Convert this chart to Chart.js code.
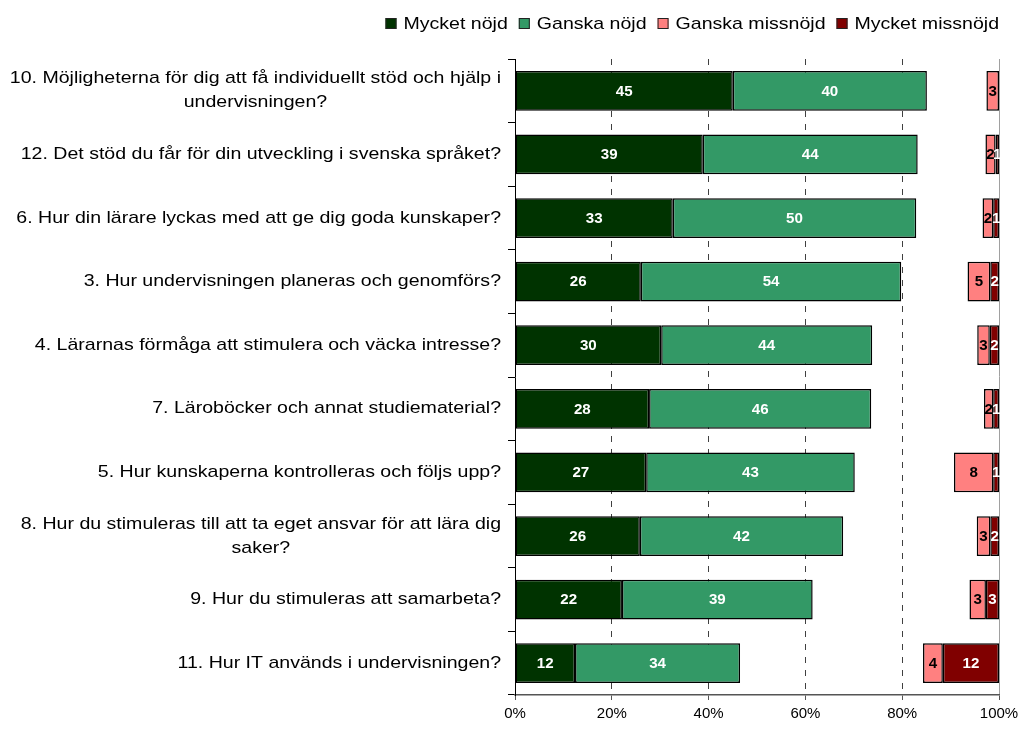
<!DOCTYPE html>
<html>
<head>
<meta charset="utf-8">
<script src="https://cdn.jsdelivr.net/npm/chart.js@4/dist/chart.umd.min.js"></script>
<style>
  html, body { margin: 0; padding: 0; background: #fff; }
  #wrap { width: 1020px; height: 729px; }
</style>
</head>
<body>
<div id="wrap"><canvas id="chart"></canvas></div>
<script>
const questions = [
  ["10. Möjligheterna för dig att få individuellt stöd och hjälp i", "undervisningen?"],
  "12. Det stöd du får för din utveckling i svenska språket?",
  "6. Hur din lärare lyckas med att ge dig goda kunskaper?",
  "3. Hur undervisningen planeras och genomförs?",
  "4. Lärarnas förmåga att stimulera och väcka intresse?",
  "7. Läroböcker och annat studiematerial?",
  "5. Hur kunskaperna kontrolleras och följs upp?",
  ["8. Hur du stimuleras till att ta eget ansvar för att lära dig", "saker?"],
  "9. Hur du stimuleras att samarbeta?",
  "11. Hur IT används i undervisningen?",
];

const mycketNojd = [45.0, 38.8, 32.6, 26.0, 30.2, 27.7, 27.1, 25.8, 22.1, 12.4];
const ganskaNojd = [40.1, 44.4, 50.3, 53.8, 43.6, 45.9, 43.1, 42.0, 39.4, 34.1];
const ganskaMissnojd = [2.6, 2.1, 2.2, 4.7, 2.6, 1.9, 8.1, 2.8, 3.4, 4.1];
const mycketMissnojd = [0, 0.7, 1.2, 1.8, 1.9, 1.2, 1.2, 1.8, 2.7, 11.6];

// tomrum mellan nöjda och missnöjda
const gap = questions.map((q, i) =>
  100 - mycketNojd[i] - ganskaNojd[i] - ganskaMissnojd[i] - mycketMissnojd[i]
);

const c1 = "#003300";
const c2 = "#339966";
const c3 = "#FF8080";
const c4 = "#800000";
const font = "'Liberation Sans', Arial, sans-serif";
const stretch = 1.15; // texten i originalet är lite bredare

function wideText(ctx, txt, x, y, sx) {
  ctx.save();
  ctx.translate(x, y);
  ctx.scale(sx, 1);
  ctx.fillText(txt, 0, 0);
  ctx.restore();
}

const barLabels = {
  id: "barLabels",
  afterDatasetsDraw(chart) {
    const ctx = chart.ctx;
    ctx.save();
    ctx.font = "bold 14px " + font;
    ctx.textAlign = "center";
    ctx.textBaseline = "middle";
    chart.data.datasets.forEach((ds, di) => {
      if (ds.isGap) return;
      const meta = chart.getDatasetMeta(di);
      meta.data.forEach((bar, i) => {
        const v = Math.round(ds.data[i]);
        if (!v) return;
        ctx.fillStyle = ds.labelColor;
        wideText(ctx, String(v), (bar.x + bar.base) / 2, bar.y + 1, 1.08);
      });
    });
    ctx.restore();
  },
};

// kategoritexter, centrerade rader i högerjusterat block
const catLabels = {
  id: "catLabels",
  afterDraw(chart) {
    const ctx = chart.ctx;
    const y = chart.scales.y;
    ctx.save();
    ctx.font = "17px " + font;
    ctx.fillStyle = "#000";
    ctx.textBaseline = "middle";
    ctx.textAlign = "center";
    const right = 501;
    questions.forEach((q, i) => {
      const lines = Array.isArray(q) ? q : [q];
      const w = Math.max(...lines.map((l) => ctx.measureText(l).width)) * stretch;
      const cy = y.getPixelForTick(i);
      const lh = 24;
      lines.forEach((l, k) => {
        wideText(ctx, l, right - w / 2, cy + (k - (lines.length - 1) / 2) * lh, stretch);
      });
    });
    ctx.restore();
  },
};

// egen förklaring uppe till höger
const topLegend = {
  id: "topLegend",
  afterDraw(chart) {
    const ctx = chart.ctx;
    ctx.save();
    ctx.font = "17px " + font;
    ctx.textBaseline = "middle";
    ctx.textAlign = "left";
    const items = chart.data.datasets.filter((d) => !d.isGap);
    const box = 11;
    const widths = items.map((d) => box + 7 + ctx.measureText(d.label).width * stretch);
    const total = widths.reduce((a, b) => a + b, 0) + 11 * (items.length - 1);
    let x = 999 - total;
    const cy = 23;
    items.forEach((d, k) => {
      ctx.fillStyle = d.backgroundColor;
      ctx.fillRect(x, cy - 5, box, box);
      ctx.strokeStyle = "#222";
      ctx.lineWidth = 1;
      ctx.strokeRect(x + 0.5, cy - 4.5, box - 1, box - 1);
      ctx.fillStyle = "#000";
      wideText(ctx, d.label, x + box + 7, cy + 1, stretch);
      x += widths[k] + 11;
    });
    ctx.restore();
  },
};

new Chart(document.getElementById("chart"), {
  type: "bar",
  data: {
    labels: questions,
    datasets: [
      { label: "Mycket nöjd", data: mycketNojd, backgroundColor: c1, labelColor: "#fff" },
      { label: "Ganska nöjd", data: ganskaNojd, backgroundColor: c2, labelColor: "#fff" },
      { label: "gap", data: gap, backgroundColor: "rgba(0,0,0,0)", borderWidth: 0, isGap: true },
      { label: "Ganska missnöjd", data: ganskaMissnojd, backgroundColor: c3, labelColor: "#000" },
      { label: "Mycket missnöjd", data: mycketMissnojd, backgroundColor: c4, labelColor: "#fff" },
    ].map((d) => ({
      borderColor: "#000",
      borderWidth: 1.5,
      borderSkipped: false,
      barPercentage: 0.625,
      categoryPercentage: 1,
      ...d,
    })),
  },
  options: {
    indexAxis: "y",
    responsive: true,
    maintainAspectRatio: false,
    animation: false,
    layout: {
      padding: { left: 0, right: 21, top: 59, bottom: 1 },
    },
    scales: {
      x: {
        stacked: true,
        min: 0,
        max: 100,
        afterFit: (s) => {
          s.paddingLeft = 0;
          s.paddingRight = 0;
        },
        ticks: {
          stepSize: 20,
          color: "#000",
          font: { family: font, size: 15 },
          callback: (v) => v + "%",
          padding: 5,
        },
        grid: {
          color: (c) => (c.index === 5 ? "#a0a0a0" : c.index === 0 ? "rgba(0,0,0,0)" : "#404040"),
          tickColor: "#555",
          tickLength: 5,
        },
        border: {
          color: "#555",
          width: 1.5,
          dash: (c) => (c.index >= 1 && c.index <= 4 ? [6, 7] : []),
        },
      },
      y: {
        stacked: true,
        afterFit: (s) => {
          s.width = 515;
        },
        ticks: {
          color: "rgba(0,0,0,0)",
          font: { family: font, size: 15 },
        },
        grid: {
          offset: true,
          drawOnChartArea: false,
          color: "#000",
          tickLength: 7,
        },
        border: { color: "#000" },
      },
    },
    plugins: {
      legend: { display: false },
      tooltip: { enabled: false },
    },
  },
  plugins: [barLabels, catLabels, topLegend],
});
</script>
</body>
</html>
